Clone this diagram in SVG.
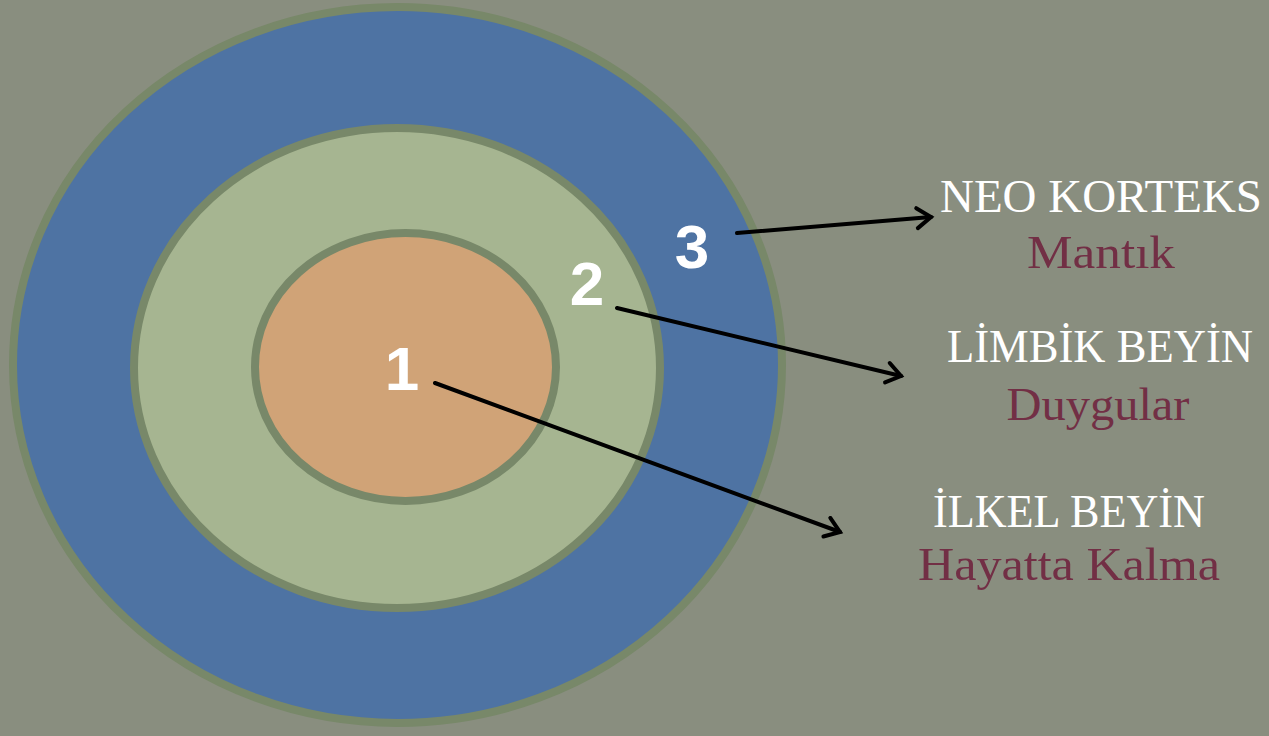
<svg xmlns="http://www.w3.org/2000/svg" width="1269" height="736" viewBox="0 0 1269 736">
<style>
.ring{stroke:#788869;stroke-width:8}
.num{font-family:"Liberation Sans",Arial,sans-serif;font-weight:bold;font-size:62px;fill:#ffffff;text-anchor:middle}
.title{font-family:"Liberation Serif","Times New Roman",serif;font-size:46px;fill:#ffffff;text-anchor:middle}
.sub{font-family:"Liberation Serif","Times New Roman",serif;font-size:46px;fill:#722f45;text-anchor:middle}
.conn{stroke:#000000;stroke-width:4;fill:none;stroke-linecap:round}
</style>
<defs>
<marker id="arr" markerUnits="userSpaceOnUse" markerWidth="30" markerHeight="30" refX="20" refY="12" orient="auto">
<path d="M6,2 L20,12 L6,22" fill="none" stroke="#000000" stroke-width="4" stroke-linecap="round" stroke-linejoin="miter"/>
</marker>
</defs>
<rect x="0" y="0" width="1269" height="736" fill="#898e7f"/>
<g id="ring3"><ellipse class="ring" cx="397.5" cy="365" rx="384.5" ry="358" fill="#4e73a3"/></g>
<g id="ring2"><ellipse class="ring" cx="397" cy="368" rx="263" ry="240" fill="#a6b591"/></g>
<g id="ring1"><ellipse class="ring" cx="405.5" cy="367" rx="150.5" ry="134" fill="#d0a377"/></g>
<g id="labels-num">
<text class="num" x="402" y="390">1</text>
<text class="num" x="587" y="305">2</text>
<text class="num" x="692" y="268">3</text>
</g>
<g id="connectors">
<line class="conn" x1="737" y1="233" x2="931" y2="217" marker-end="url(#arr)"/>
<line class="conn" x1="617" y1="308" x2="901" y2="376" marker-end="url(#arr)"/>
<line class="conn" x1="435" y1="383" x2="840" y2="532" marker-end="url(#arr)"/>
</g>
<g id="neo-korteks">
<text class="title" x="1101" y="212" textLength="322" lengthAdjust="spacingAndGlyphs">NEO KORTEKS</text>
<text class="sub" x="1101" y="268" textLength="148" lengthAdjust="spacingAndGlyphs">Mantık</text>
</g>
<g id="limbik-beyin">
<text class="title" x="1100" y="362" textLength="306" lengthAdjust="spacingAndGlyphs">LİMBİK BEYİN</text>
<text class="sub" x="1098" y="420" textLength="183" lengthAdjust="spacingAndGlyphs">Duygular</text>
</g>
<g id="ilkel-beyin">
<text class="title" x="1069" y="527" textLength="272" lengthAdjust="spacingAndGlyphs">İLKEL BEYİN</text>
<text class="sub" x="1069" y="580" textLength="302" lengthAdjust="spacingAndGlyphs">Hayatta Kalma</text>
</g>
</svg>
